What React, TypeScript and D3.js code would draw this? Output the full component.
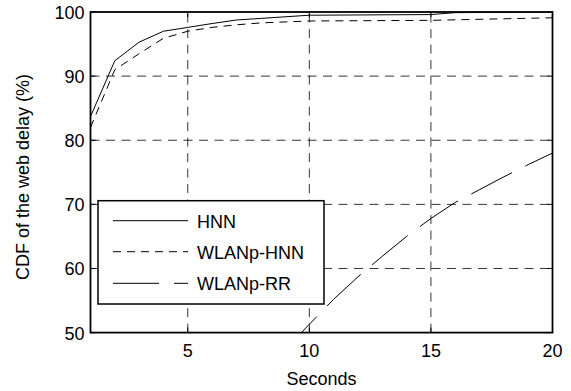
import React from "react";
import * as d3 from "d3";

// seconds on the x axis
const secondsHNN = [1, 2, 3, 4, 5, 6, 7, 8, 10, 15, 16, 20];
const cdfHNN = [83.7, 92.4, 95.3, 97.0, 97.6, 98.2, 98.75, 99.0, 99.5, 99.6, 99.9, 100];

const secondsWlanHNN = [1, 2, 3, 4, 5, 6, 7, 8, 10, 15, 20];
const cdfWlanHNN = [82.0, 91.0, 93.5, 95.9, 97.0, 97.6, 98.0, 98.3, 98.6, 98.7, 99.1];

const secondsWlanRR = [9, 10, 11, 12, 13, 14, 15, 16, 17, 18, 19, 20];
const cdfWlanRR = [47.3, 51.3, 55.2, 58.7, 61.9, 65.0, 67.8, 70.3, 72.3, 74.3, 76.2, 78.0];

const xTicks = [5, 10, 15, 20];
const yTicks = [50, 60, 70, 80, 90, 100];

const seriesNames = ["HNN", "WLANp-HNN", "WLANp-RR"];
const seriesDash = ["none", "8,6", "46,15"];

const W = 571;
const H = 391;
const margin = { top: 12, right: 18.5, bottom: 58.4, left: 90.5 };
const font = "'Liberation Sans', Arial, sans-serif";
const fs = 18;

export default function App() {
  const x = d3.scaleLinear().domain([1, 20]).range([margin.left, W - margin.right]);
  const y = d3.scaleLinear().domain([50, 100]).range([H - margin.bottom, margin.top]);

  const line = d3
    .line<[number, number]>()
    .x((d) => x(d[0]))
    .y((d) => y(d[1]));

  const series = [
    d3.zip(secondsHNN, cdfHNN) as [number, number][],
    d3.zip(secondsWlanHNN, cdfWlanHNN) as [number, number][],
    d3.zip(secondsWlanRR, cdfWlanRR) as [number, number][],
  ];

  const x0 = x.range()[0], x1 = x.range()[1];
  const y0 = y.range()[0], y1 = y.range()[1];
  const tickLen = 5;

  // legend box
  const lg = { x: 98, y: 200.7, w: 226, h: 103.3 };
  const rowY = [220.7, 251.7, 283.3];

  return (
    <svg
      width={W}
      height={H}
      style={{ position: "absolute", left: 0, top: 0, background: "#fff" }}
      fontFamily={font}
    >
      <defs>
        <clipPath id="plotClip">
          <rect x={x0} y={y1} width={x1 - x0} height={y0 - y1} />
        </clipPath>
      </defs>
      <rect width={W} height={H} fill="#fff" />

      {/* grid */}
      <g stroke="#000" strokeWidth={0.8} strokeDasharray="9,6.5">
        {xTicks.filter((t) => t < 20).map((t) => (
          <line key={"gx" + t} x1={x(t)} x2={x(t)} y1={y0} y2={y1} />
        ))}
        {yTicks.filter((t) => t > 50 && t < 100).map((t) => (
          <line key={"gy" + t} x1={x0} x2={x1} y1={y(t)} y2={y(t)} />
        ))}
      </g>

      {/* data */}
      <g clipPath="url(#plotClip)" fill="none" stroke="#000" strokeWidth={1}>
        {series.map((s, i) => (
          <path
            key={i}
            d={line(s) || ""}
            strokeDasharray={seriesDash[i] === "none" ? undefined : seriesDash[i]}
          />
        ))}
      </g>

      {/* ticks */}
      <g stroke="#000" strokeWidth={1}>
        {xTicks.map((t) => (
          <g key={"tx" + t}>
            <line x1={x(t)} x2={x(t)} y1={y0} y2={y0 - tickLen} />
            <line x1={x(t)} x2={x(t)} y1={y1} y2={y1 + tickLen} />
          </g>
        ))}
        {yTicks.map((t) => (
          <g key={"ty" + t}>
            <line x1={x0} x2={x0 + tickLen} y1={y(t)} y2={y(t)} />
            <line x1={x1} x2={x1 - tickLen} y1={y(t)} y2={y(t)} />
          </g>
        ))}
      </g>

      {/* axes box */}
      <rect x={x0} y={y1} width={x1 - x0} height={y0 - y1} fill="none" stroke="#000" strokeWidth={1.8} />

      {/* tick labels */}
      <g fontSize={fs} fill="#000">
        {xTicks.map((t) => (
          <text key={"lx" + t} x={x(t)} y={y0 + 24} textAnchor="middle">
            {t}
          </text>
        ))}
        {yTicks.map((t) => (
          <text key={"ly" + t} x={x0 - 6} y={y(t) + 1} textAnchor="end" dominantBaseline="central">
            {t}
          </text>
        ))}
      </g>

      {/* axis titles */}
      <text x={(x0 + x1) / 2} y={385} textAnchor="middle" fontSize={fs}>
        Seconds
      </text>
      <text
        transform={`translate(29, ${177}) rotate(-90)`}
        textAnchor="middle"
        fontSize={fs}
      >
        CDF of the web delay (%)
      </text>

      {/* legend */}
      <rect x={lg.x} y={lg.y} width={lg.w} height={lg.h} fill="#fff" stroke="#000" strokeWidth={1.5} />
      {seriesNames.map((name, i) => (
        <g key={name}>
          <line
            x1={113}
            x2={188}
            y1={rowY[i]}
            y2={rowY[i]}
            stroke="#000"
            strokeWidth={1}
            strokeDasharray={seriesDash[i] === "none" ? undefined : seriesDash[i]}
          />
          <text x={197} y={rowY[i] + 1} dominantBaseline="central" fontSize={fs}>
            {name}
          </text>
        </g>
      ))}
    </svg>
  );
}
